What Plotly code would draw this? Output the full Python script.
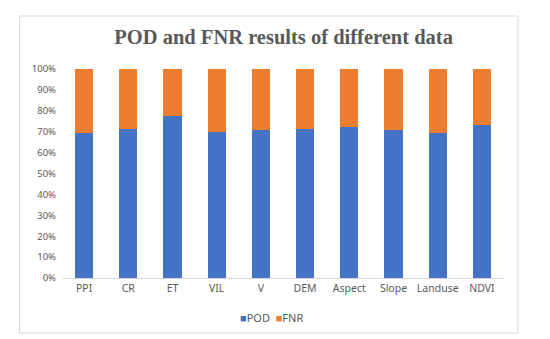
import plotly.graph_objects as go

categories = ["PPI", "CR", "ET", "VIL", "V", "DEM", "Aspect", "Slope", "Landuse", "NDVI"]
pod = [69.5, 71.4, 77.4, 70.0, 71.0, 71.4, 72.2, 70.7, 69.5, 73.4]
fnr = [round(100 - v, 1) for v in pod]
y_ticks = [0, 10, 20, 30, 40, 50, 60, 70, 80, 90, 100]
y_tick_labels = [f"{t}%" for t in y_ticks]
series_names = ["POD", "FNR"]
series_colors = ["#4472C4", "#ED7D31"]

W, H = 550, 339
L, R, T, B = 54, 54, 61, 69
pw, ph = W - L - R, H - T - B

fig = go.Figure()
fig.add_trace(go.Bar(x=categories, y=pod, name=series_names[0],
                     marker=dict(color=series_colors[0], line=dict(width=0))))
fig.add_trace(go.Bar(x=categories, y=fnr, name=series_names[1],
                     marker=dict(color=series_colors[1], line=dict(width=0))))

def px_x(x):
    return (x - L) / pw

def px_y(y):
    return (H - B - y) / ph

fig.add_shape(type="rect", xref="paper", yref="paper",
              x0=px_x(11.5), x1=px_x(510), y0=px_y(325), y1=px_y(8),
              line=dict(color="#d9d9d9", width=1), fillcolor="rgba(0,0,0,0)", layer="below")

legend_text = "&nbsp;&nbsp;".join(
    f"<span style='color:{c}'>■</span>{n}" for n, c in zip(series_names, series_colors)
)
fig.add_annotation(text=legend_text, xref="paper", yref="paper",
                   x=px_x(263), y=px_y(309), xanchor="center", yanchor="middle",
                   showarrow=False, font=dict(family="Noto Sans", size=11, color="#595959"))

fig.update_layout(
    width=W, height=H,
    margin=dict(l=L, r=R, t=T, b=B),
    barmode="stack", bargap=0.59,
    paper_bgcolor="white", plot_bgcolor="white",
    title=dict(text="<b>POD and FNR results of different data</b>",
               font=dict(family="Liberation Serif", size=20.5, color="#595959"),
               x=px_x(275.5), xanchor="center", y=1 - 29 / H, yanchor="middle"),
    font=dict(family="Noto Sans", size=10, color="#595959"),
    showlegend=False,
    xaxis=dict(showline=True, linecolor="#d9d9d9", linewidth=1, ticks="",
               tickfont=dict(size=10.5, color="#595959")),
    yaxis=dict(range=[0, 100], tickvals=y_ticks, ticktext=y_tick_labels, showgrid=False,
               zeroline=False, showline=False, ticks="", ticklabelstandoff=5,
               tickfont=dict(size=9.5, color="#595959")),
)

fig.write_html("out.html")
